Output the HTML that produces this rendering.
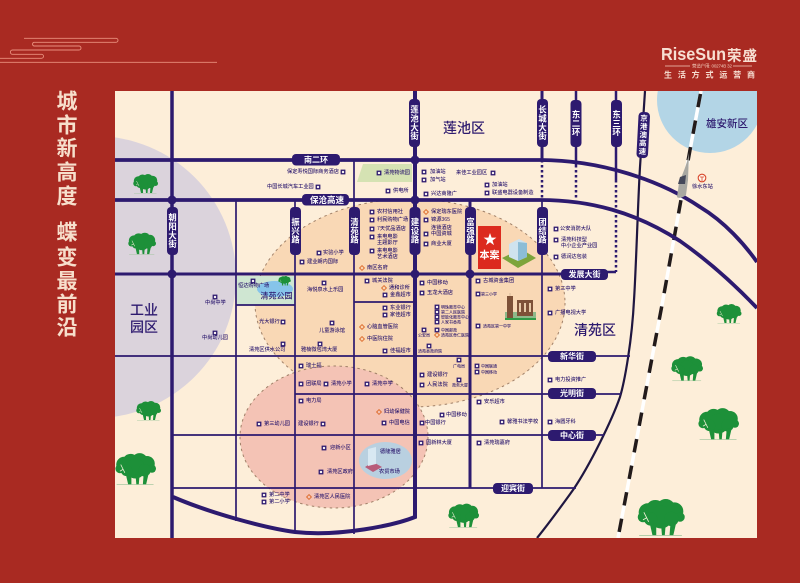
<!DOCTYPE html>
<html><head><meta charset="utf-8"><style>
html,body{margin:0;padding:0;background:#a92a22}
svg{display:block}
text{font-family:"Liberation Sans","Noto Sans CJK SC",sans-serif}
.l{font-size:5.2px;fill:#2d1a6f;dominant-baseline:central;font-weight:500}
.p{font-size:8px;fill:#fff;font-weight:700;text-anchor:middle;dominant-baseline:central}
.v{font-size:8.3px;fill:#fff;font-weight:700;text-anchor:middle;dominant-baseline:central;writing-mode:vertical-rl;letter-spacing:.6px}
.t{font-size:21px;fill:#f7dfcc;font-weight:700;text-anchor:middle;dominant-baseline:central}
.z{font-size:14px;fill:#2d1a6f;font-weight:500;text-anchor:middle;dominant-baseline:central}
.n{fill:none;stroke:#2d1a6f}
</style></head><body>
<svg width="800" height="583" viewBox="0 0 800 583" xmlns="http://www.w3.org/2000/svg">
<defs>
<clipPath id="m"><rect x="115" y="91" width="642" height="447"/></clipPath>
<g id="s"><rect x="-2.4" y="-2.4" width="4.8" height="4.8" fill="#2d1a6f"/><rect x="-1.1" y="-1.1" width="2.2" height="2.2" fill="#f4eef0"/></g>
<g id="d"><path d="M0-2.4L2.4 0 0 2.4-2.4 0z" fill="none" stroke="#dd6a2a" stroke-width=".9"/></g>
<symbol id="t" viewBox="0 0 100 80">
<rect x="4" y="76" width="90" height="1.600" fill="#9cc59a"/>
<g fill="#1d9039"><circle cx="22" cy="28" r="19"/><circle cx="38" cy="22" r="20"/><circle cx="60" cy="20" r="20"/><circle cx="78" cy="26" r="19"/><circle cx="50" cy="38" r="24"/><circle cx="12" cy="38" r="11"/><circle cx="90" cy="38" r="10"/><circle cx="72" cy="42" r="15"/><circle cx="28" cy="42" r="14"/>
<path d="M26 50L32 76H40L40 52ZM50 52L52 76H58L60 52ZM70 50L68 76H76L82 50Z"/></g>
<path d="M14 28L24 48M19 40l-7 4M42 62L46 76" stroke="#f3f0d8" stroke-width="1.800" fill="none"/>
</symbol>
</defs>
<rect width="800" height="583" fill="#a92a22"/>

<path d="M24 38.3H116a2 2 0 0 1 0 4H34a1.9 1.9 0 0 0 0 3.7H79a2 2 0 0 1 0 4H12.5a2.1 2.1 0 0 0 0 4.3H41.5a2 2 0 0 1 0 4H0M0 62.3H217" fill="none" stroke="#e98f7d" stroke-width=".9"/>

<g class="title">
<text class="t" x="67" y="102">城</text><text class="t" x="67" y="126">市</text><text class="t" x="67" y="149">新</text><text class="t" x="67" y="173">高</text><text class="t" x="67" y="197">度</text>
<text class="t" x="67" y="233">蝶</text><text class="t" x="67" y="258">变</text><text class="t" x="67" y="282">最</text><text class="t" x="67" y="305">前</text><text class="t" x="67" y="328">沿</text>
</g>

<text x="661" y="60" font-size="17.5" font-weight="700" fill="#f7dfd2" textLength="65" lengthAdjust="spacingAndGlyphs">RiseSun</text>
<text x="727" y="61" font-size="14.5" font-weight="700" fill="#f7dfd2" textLength="30">荣盛</text>
<path d="M665 66H690M733 66H752" stroke="#f3cdbd" stroke-width=".7"/>
<text x="692" y="66" font-size="4.5" fill="#f3cdbd" dominant-baseline="central" textLength="40">营造户用: 00274B 32</text>
<text x="664" y="75" font-size="8" font-weight="700" fill="#f7dfd2" dominant-baseline="central" textLength="91">生活方式运营商</text>

<rect x="115" y="91" width="642" height="447" fill="#fdeed9"/>
<g clip-path="url(#m)">
<circle cx="95" cy="277" r="141" fill="#dbd3dc"/>
<circle cx="710" cy="100" r="53" fill="#b3d5e6"/>
<ellipse cx="410" cy="303" rx="155" ry="104" fill="#f9d8b5" stroke="#a08068" stroke-dasharray="2.5 3.5"/>
<path d="M363 164H412V182H357Z" fill="#d5e2b3"/>
<rect x="237" y="276" width="58" height="29" fill="#cfe6d2"/>
<ellipse cx="275" cy="289" rx="18" ry="8" fill="#86c4ea"/>
<ellipse cx="334" cy="437" rx="94" ry="71" fill="#f4c3b5" stroke="#a08068" stroke-dasharray="2.5 3.5"/>
<ellipse cx="385.500" cy="460.500" rx="26.500" ry="18.500" fill="#b9d0e0"/>

<!-- rail -->
<path d="M701 91L690 150L662 305L618 538" fill="none" stroke="#fff" stroke-width="3.500"/>
<path d="M701 91L690 150L662 305L618 538" fill="none" stroke="#221a1a" stroke-width="3.500" stroke-dasharray="13.500 13.500" stroke-dashoffset="-3"/>

<!-- expressway -->
<path d="M645 91L640 167C638 200 636 270 634 300C632 340 625 380 620 397C612 420 590 465 573 490C560 508 550 522 537 538" fill="none" stroke="#1f1640" stroke-width="2.200"/>

<!-- thick roads -->
<g class="n" fill="none">
<path d="M115 160H540C600 160 660 180 700 207C725 222 745 245 757 262" stroke-width="3.800"/>
<path d="M115 200H540C590 200 635 212 680 241C710 262 735 285 757 308" stroke-width="3.800"/>
<path d="M172 91V538" stroke-width="3.500"/>
<path d="M415 91V517C395 525 340 537 295 532C265 528 210 513 173 497" stroke-width="4"/>
<path d="M115 274H570" stroke-width="3"/>
<path d="M470 200V488" stroke-width="3"/>
<path d="M542 91V160" stroke-width="3"/>
<path d="M576 91V165M616 91V180M566 272H616" stroke-width="2.500"/>
<path d="M542 160V200M576 165V200M616 180V272" stroke-width="2.500" stroke-dasharray="2.500 2.500"/>
<path d="M236 200V521M295 200V533M354 160V534M542 200V488" stroke-width="1.700"/>
<path d="M115 356H630M295 394H621M172 435H604M172 488H576M236 305H295M354 302H415" stroke-width="1.700"/>
</g>
<g fill="#2d1a6f"><circle cx="172" cy="200" r="4.500"/><circle cx="172" cy="274" r="4.500"/><circle cx="415" cy="160" r="4.500"/><circle cx="415" cy="200" r="4.500"/><circle cx="415" cy="274" r="4.500"/><circle cx="470" cy="274" r="4.500"/></g>

<!-- train -->
<path d="M689 153C687 165 682 175 679 183L677 197C679 199 684 197 686 195L688 180Z" fill="#a9a8a2"/>
<path d="M680 177L686 175L685 184L678 184Z" fill="#45485a"/>
<circle cx="702" cy="178" r="3.800" fill="#fff6ea" stroke="#d8462a" stroke-width="1.100"/>
<path d="M700 177H704M702 177V181" stroke="#d8462a" stroke-width=".8"/>

<!-- trees -->
<use href="#t" x="133" y="174" width="25" height="20"/>
<use href="#t" x="128" y="232" width="28" height="24"/>
<use href="#t" x="136" y="401" width="25" height="20"/>
<use href="#t" x="115" y="453" width="41" height="33"/>
<use href="#t" x="448" y="503" width="31" height="26"/>
<use href="#t" x="716" y="304" width="26" height="20"/>
<use href="#t" x="671" y="356" width="32" height="26"/>
<use href="#t" x="698" y="408" width="41" height="33"/>
<use href="#t" x="636" y="499" width="50" height="38"/>
<use href="#t" x="278" y="276" width="13" height="10"/>

<!-- building: project -->
<rect x="478" y="226" width="23" height="43" fill="#dc2a1e"/>
<path d="M490 233l1.600 4.600h4.800l-3.900 2.900 1.500 4.600-4-2.800-4 2.800 1.500-4.600-3.900-2.900h4.800z" fill="#fff"/>
<text x="489.500" y="256" font-size="10" font-weight="700" fill="#fff" text-anchor="middle" dominant-baseline="central">本案</text>
<path d="M502 258L521 249L536 258L518 268Z" fill="#7da43c"/>
<path d="M509 244L519 239L527 243V257L518 261L509 257Z" fill="#cfe3ee"/><path d="M518 242L527 243V257L518 261Z" fill="#8cbdd6"/>

<!-- school building -->
<rect x="505" y="312" width="31" height="6" fill="#8eb98a"/>
<path d="M507 318V296H513V318ZM517 300H533V316H517Z" fill="#7e5138"/>
<path d="M509 293h2v3h-2zM519 303h2v9h-2zM524 303h2v9h-2zM529 303h2v9h-2z" fill="#e8c9a8"/>
<rect x="505" y="318" width="31" height="2" fill="#2f9a45"/>

<!-- market icon -->
<path d="M365 467L373 462L382 467L373 472Z" fill="#b85c7a"/><path d="M368 449L376 447V464L368 466Z" fill="#d8e8f2"/>

<!-- region labels -->
<text class="z" x="464" y="128">莲池区</text>
<text class="z" x="595" y="330">清苑区</text>
<text class="z" x="144" y="310">工业</text>
<text class="z" x="144" y="327">园区</text>
<text class="z" x="727" y="124" style="font-size:10.500px">雄安新区</text>
<text class="z" x="276.500" y="296" style="font-size:8px">清苑公园</text>

<!-- horizontal pills -->
<g fill="#2d1a6f"><rect x="292" y="154" width="48" height="11.500" rx="4"/><rect x="302" y="194" width="47" height="11.500" rx="4"/><rect x="561" y="269" width="47" height="11" rx="4"/><rect x="548" y="351" width="48" height="11" rx="4"/><rect x="548" y="388" width="48" height="11" rx="4"/><rect x="548" y="430" width="48" height="11" rx="4"/><rect x="493" y="483" width="40" height="11" rx="4"/>
<rect x="409" y="99" width="11" height="48" rx="4"/><rect x="537" y="99" width="11" height="48" rx="4"/><rect x="570.500" y="100" width="11" height="47" rx="4"/><rect x="611" y="100" width="11" height="47" rx="4"/><rect x="637.500" y="112" width="11.500" height="46" rx="4" transform="rotate(3 643 135)"/>
<rect x="167" y="207" width="11" height="48" rx="4"/><rect x="290" y="207" width="11" height="48" rx="4"/><rect x="349" y="207" width="11" height="48" rx="4"/><rect x="409.500" y="207" width="11" height="48" rx="4"/><rect x="465" y="207" width="11" height="48" rx="4"/><rect x="537" y="207" width="11" height="48" rx="4"/></g>
<text class="p" x="316" y="160">南二环</text>
<text class="p" x="327" y="200" style="font-size:8.500px">保沧高速</text>
<text class="p" x="584.500" y="274.500">发展大街</text>
<text class="p" x="572" y="356.500">新华街</text>
<text class="p" x="572" y="393.500">光明街</text>
<text class="p" x="572" y="435.500">中心街</text>
<text class="p" x="513" y="488.500">迎宾街</text>
<text class="v" x="414.500" y="123">莲池大街</text>
<text class="v" x="542.500" y="123">长城大街</text>
<text class="v" x="576" y="123.500">东二环</text>
<text class="v" x="616.500" y="123.500">东三环</text>
<text class="v" x="643.200" y="135" style="font-size:7.500px;letter-spacing:.8px" transform="rotate(3 643 135)">京港澳高速</text>
<text class="v" x="172.500" y="231">朝阳大街</text>
<text class="v" x="295.500" y="231">振兴路</text>
<text class="v" x="354.500" y="231">清苑路</text>
<text class="v" x="415" y="231">建设路</text>
<text class="v" x="470.500" y="231">富强路</text>
<text class="v" x="542.500" y="231">团结路</text>

<!-- icons -->
<use href="#s" x="343" y="172"/><use href="#s" x="318" y="187"/><use href="#s" x="319" y="253"/><use href="#s" x="302" y="262"/><use href="#s" x="253" y="281"/><use href="#s" x="324" y="283"/><use href="#s" x="215" y="297"/><use href="#s" x="215" y="333"/><use href="#s" x="283" y="322"/><use href="#s" x="283" y="344"/><use href="#s" x="332" y="323"/><use href="#s" x="320" y="344"/><use href="#s" x="301" y="366"/><use href="#s" x="301" y="384"/><use href="#s" x="326" y="384"/><use href="#s" x="301" y="401"/><use href="#s" x="259" y="424"/><use href="#s" x="323" y="424"/><use href="#s" x="324" y="448"/><use href="#s" x="321" y="472"/><use href="#s" x="264" y="495"/><use href="#s" x="264" y="502"/>
<use href="#s" x="379" y="173"/><use href="#s" x="388" y="191"/><use href="#s" x="424" y="172"/><use href="#s" x="424" y="180"/><use href="#s" x="426" y="194"/><use href="#s" x="493" y="173"/><use href="#s" x="487" y="185"/><use href="#s" x="487" y="193"/><use href="#s" x="372" y="212"/><use href="#s" x="372" y="220"/><use href="#s" x="372" y="229"/><use href="#s" x="372" y="237"/><use href="#s" x="372" y="251"/><use href="#s" x="426" y="220"/><use href="#s" x="426" y="234"/><use href="#s" x="426" y="244"/>
<use href="#s" x="367" y="281"/><use href="#s" x="385" y="295"/><use href="#s" x="385" y="308"/><use href="#s" x="385" y="315"/><use href="#s" x="385" y="351"/><use href="#s" x="367" y="384"/><use href="#s" x="384" y="423"/><use href="#s" x="422" y="283"/><use href="#s" x="422" y="293"/><use href="#s" x="437" y="307"/><use href="#s" x="437" y="312"/><use href="#s" x="437" y="317"/><use href="#s" x="437" y="322"/><use href="#s" x="424" y="330"/><use href="#s" x="437" y="330"/><use href="#s" x="429" y="346"/><use href="#s" x="478" y="281"/><use href="#s" x="478" y="294"/><use href="#s" x="478" y="326"/><use href="#s" x="459" y="360"/><use href="#s" x="477" y="366"/><use href="#s" x="477" y="372"/><use href="#s" x="422" y="375"/><use href="#s" x="422" y="385"/><use href="#s" x="459" y="380"/><use href="#s" x="479" y="402"/><use href="#s" x="442" y="415"/><use href="#s" x="422" y="423"/><use href="#s" x="502" y="422"/><use href="#s" x="550" y="422"/><use href="#s" x="421" y="443"/><use href="#s" x="479" y="443"/><use href="#s" x="550" y="289"/><use href="#s" x="550" y="313"/><use href="#s" x="550" y="380"/><use href="#s" x="556" y="229"/><use href="#s" x="556" y="240"/><use href="#s" x="556" y="257"/>
<use href="#d" x="309" y="497"/><use href="#d" x="362" y="268"/><use href="#d" x="426" y="212"/><use href="#d" x="384" y="288"/><use href="#d" x="362" y="327"/><use href="#d" x="362" y="339"/><use href="#d" x="379" y="412"/><use href="#d" x="437" y="335"/>

<!-- small labels -->
<text class="l" x="287" y="172">保定寿悦国际商务酒店</text>
<text class="l" x="267" y="187">中国长城汽车工业园</text>
<text class="l" x="323" y="253">实验小学</text>
<text class="l" x="307" y="262">建业朗内国际</text>
<text class="l" x="238" y="286">恒达购物广场</text>
<text class="l" x="307" y="290">海悦泉水上乐园</text>
<text class="l" x="205" y="303">中尚中学</text>
<text class="l" x="202" y="338">中尚幼儿园</text>
<text class="l" x="259" y="322">光大银行</text>
<text class="l" x="249" y="350">清苑区供水公司</text>
<text class="l" x="319" y="331">儿童游泳馆</text>
<text class="l" x="301" y="350">雅楠微包湾大厦</text>
<text class="l" x="306" y="366">瑞士福</text>
<text class="l" x="306" y="384">团联局</text>
<text class="l" x="331" y="384">清苑小学</text>
<text class="l" x="306" y="401">电力局</text>
<text class="l" x="264" y="424">第三幼儿园</text>
<text class="l" x="298" y="424">建设银行</text>
<text class="l" x="330" y="448">迎新小区</text>
<text class="l" x="327" y="472">清苑区政府</text>
<text class="l" x="269" y="495">第二中学</text>
<text class="l" x="269" y="502">第二小学</text>
<text class="l" x="314" y="497">清苑区人民医院</text>
<text class="l" x="384" y="173">清苑物流园</text>
<text class="l" x="393" y="191">供电所</text>
<text class="l" x="430" y="172">加油站</text>
<text class="l" x="430" y="180">加气站</text>
<text class="l" x="431" y="194">兴达商隆广</text>
<text class="l" x="456" y="173">来佳工业园区</text>
<text class="l" x="492" y="185">加油站</text>
<text class="l" x="492" y="193">联盛电器设备制造</text>
<text class="l" x="377" y="212">农村信用社</text>
<text class="l" x="377" y="220">利民购物广场</text>
<text class="l" x="377" y="229">7天优品酒店</text>
<text class="l" x="377" y="237">来电电影</text>
<text class="l" x="377" y="243">主题影厅</text>
<text class="l" x="377" y="251">来电电影</text>
<text class="l" x="377" y="257">艺术酒店</text>
<text class="l" x="367" y="268">南区名府</text>
<text class="l" x="431" y="212">保定瑞东医院</text>
<text class="l" x="431" y="220">锦源365</text>
<text class="l" x="431" y="228">连锁酒店</text>
<text class="l" x="431" y="234">中国资城</text>
<text class="l" x="431" y="244">商业大厦</text>
<text class="l" x="372" y="281">城关法院</text>
<text class="l" x="389" y="288">通和诊所</text>
<text class="l" x="390" y="295">金鑫超市</text>
<text class="l" x="390" y="308">东业银行</text>
<text class="l" x="390" y="315">家佳超市</text>
<text class="l" x="367" y="327">心脑血管医院</text>
<text class="l" x="367" y="339">中医院住院</text>
<text class="l" x="390" y="351">佳福超市</text>
<text class="l" x="372" y="384">清苑中学</text>
<text class="l" x="384" y="412">妇幼保健院</text>
<text class="l" x="389" y="423">中国电信</text>
<text class="l" x="427" y="283">中国移动</text>
<text class="l" x="427" y="293">玉龙大酒店</text>
<text class="l" x="441" y="307" style="font-size:4px">明珠教育中心</text>
<text class="l" x="441" y="312" style="font-size:4px">第二人民医院</text>
<text class="l" x="441" y="317" style="font-size:4px">智能化教育中心</text>
<text class="l" x="441" y="322" style="font-size:4px">人家书香苑</text>
<text class="l" x="418" y="335" style="font-size:4px">公安局</text>
<text class="l" x="441" y="330" style="font-size:4px">中国邮政</text>
<text class="l" x="441" y="335" style="font-size:4px">清苑区骨仁医院</text>
<text class="l" x="418" y="351" style="font-size:4px">清苑县政府院</text>
<text class="l" x="483" y="281">古城资金集团</text>
<text class="l" x="481" y="294" style="font-size:4px">第三小学</text>
<text class="l" x="483" y="326" style="font-size:4px">清苑区第一中学</text>
<text class="l" x="453" y="366" style="font-size:4px">广电局</text>
<text class="l" x="481" y="366" style="font-size:4px">中国联通</text>
<text class="l" x="481" y="372" style="font-size:4px">中国移动</text>
<text class="l" x="427" y="375">建设银行</text>
<text class="l" x="427" y="385">人民法院</text>
<text class="l" x="452" y="385" style="font-size:4px">政务大厦</text>
<text class="l" x="484" y="402">安乐超市</text>
<text class="l" x="446" y="415">中国移动</text>
<text class="l" x="425" y="423">中国银行</text>
<text class="l" x="507" y="422">馨雅书法学校</text>
<text class="l" x="555" y="422">海圆牙科</text>
<text class="l" x="426" y="443">图新林大厦</text>
<text class="l" x="484" y="443">清苑瑞嘉府</text>
<text class="l" x="555" y="289">第三中学</text>
<text class="l" x="555" y="313">广播电视大学</text>
<text class="l" x="555" y="380">电力投资推广</text>
<text class="l" x="560" y="229">公安消防大队</text>
<text class="l" x="561" y="240">清苑科技型</text>
<text class="l" x="561" y="246">中小企业产业园</text>
<text class="l" x="561" y="257">德润达包装</text>
<text class="l" x="692" y="187">徐水东站</text>
<text class="l" x="380" y="452">德隆雅居</text>
<text class="l" x="379" y="472">农贸市场</text>
</g>
</svg>
</body></html>
